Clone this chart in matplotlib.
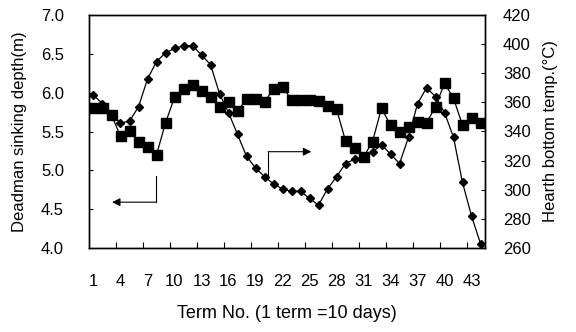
import matplotlib
matplotlib.use("Agg")
import matplotlib.pyplot as plt
import numpy as np

plt.rcParams['font.family'] = ['Liberation Sans', 'DejaVu Sans']

# Datos
terminos = np.arange(1, 45)
profundidad = [5.80, 5.80, 5.71, 5.44, 5.51, 5.37, 5.30, 5.20, 5.61, 5.94,
               6.05, 6.10, 6.02, 5.94, 5.82, 5.88, 5.76, 5.92, 5.92, 5.88,
               6.05, 6.07, 5.91, 5.91, 5.91, 5.89, 5.83, 5.79, 5.38, 5.29,
               5.17, 5.37, 5.80, 5.58, 5.49, 5.56, 5.62, 5.61, 5.82, 6.12,
               5.93, 5.58, 5.68, 5.61]
temperatura = [365, 359, 351, 346, 347, 357, 376, 388, 394, 397,
               399, 399, 392.5, 386, 366, 353, 338, 323, 315, 309,
               304, 300.5, 299, 299, 294, 289.5, 300.5, 309, 318, 321,
               322.5, 326, 331, 324.5, 318, 336, 359, 370, 364, 353,
               336, 305, 282, 263]
etiquetas_x = list(range(1, 44, 3))

fig = plt.figure(figsize=(5.76, 3.32), dpi=100)
ax = fig.add_axes([89/576, 1 - 248/332, 396/576, 233/332])
ax2 = ax.twinx()

# Profundidad (eje izquierdo) con cuadros
ax.plot(terminos, profundidad, color='black', linewidth=0.9, marker='s',
        markersize=7, markerfacecolor='black', markeredgecolor='black', zorder=3)
# Temperatura (eje derecho) con rombos
ax2.plot(terminos, temperatura, color='black', linewidth=0.9, marker='D',
         markersize=3.6, markerfacecolor='black', markeredgecolor='black')

ax.set_xlim(0.5, 44.5)
ax.set_ylim(4.0, 7.0)
ax2.set_ylim(260, 420)

ax.set_yticks(np.arange(4.0, 7.01, 0.5))
ax.set_yticklabels([f"{v:.1f}" for v in np.arange(4.0, 7.01, 0.5)])
ax2.set_yticks(range(260, 421, 20))

ax.set_xticks(etiquetas_x)
ax.set_xticks(np.arange(3.5, 44, 3), minor=True)
ax.tick_params(axis='x', which='major', length=0, pad=19, labelsize=12)
ax.tick_params(axis='x', which='minor', direction='in', length=4, width=0.8)
ax.tick_params(axis='y', direction='in', length=3, width=0.8, pad=18, labelsize=12)
ax2.tick_params(axis='y', direction='in', length=3, width=0.8, pad=13, labelsize=12)

ax.set_ylabel("Deadman sinking depth(m)", fontsize=12, labelpad=10)
ax2.set_ylabel("Hearth bottom temp.(°C)", fontsize=12, labelpad=9)
ax.set_xlabel("Term No. (1 term =10 days)", fontsize=13, labelpad=11)

for a in (ax, ax2):
    for s in a.spines.values():
        s.set_linewidth(1.0)
        s.set_color('black')

# Flechas que indican el eje de cada serie
ax.plot([7.94, 7.94], [4.93, 4.59], color='black', linewidth=0.8)
ax.annotate('', xy=(3.06, 4.59), xytext=(7.94, 4.59),
            arrowprops=dict(arrowstyle='-|>', color='black', lw=0.8,
                            mutation_scale=12, shrinkA=0, shrinkB=0))
ax.plot([20.4, 20.4], [4.94, 5.24], color='black', linewidth=0.8)
ax.annotate('', xy=(25.2, 5.24), xytext=(20.4, 5.24),
            arrowprops=dict(arrowstyle='-|>', color='black', lw=0.8,
                            mutation_scale=12, shrinkA=0, shrinkB=0))

fig.savefig("out.png", dpi=100)
